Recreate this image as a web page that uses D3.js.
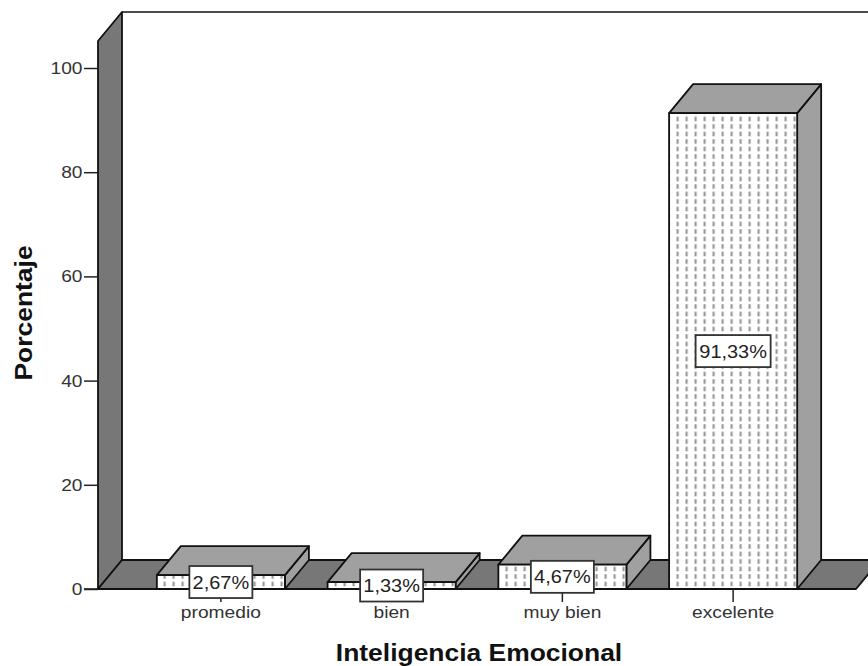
<!DOCTYPE html>
<html><head><meta charset="utf-8">
<script src="https://cdn.jsdelivr.net/npm/d3@7/dist/d3.min.js"></script>
<style>html,body{margin:0;padding:0;background:#fff}svg{display:block}text{font-family:"Liberation Sans",Arial,sans-serif}</style>
</head><body><svg id="c" width="868" height="666"></svg>
<script>
const categories = ["promedio", "bien", "muy bien", "excelente"];
const values = [2.67, 1.33, 4.67, 91.33];
const labels = ["2,67%", "1,33%", "4,67%", "91,33%"];
const yTicks = [0, 20, 40, 60, 80, 100];

const svg = d3.select("#c");
const dx = 24, dy = -29;
const stretch = 1.13, titleStretch = 1.15;
const y = d3.scaleLinear().domain([0, 100]).range([589, 68]);
const x = d3.scaleBand().domain(categories).range([135.5, 818.5]).paddingInner(0.25).paddingOuter(0.125);
const yTop = 41;
const defs = svg.append("defs");
const pat = defs.append("pattern").attr("id", "dots").attr("patternUnits", "userSpaceOnUse")
  .attr("width", 9).attr("height", 7.5).attr("x", -1.5).attr("y", 589);
pat.append("rect").attr("width", 9).attr("height", 7.5).attr("fill", "#fff");
pat.append("rect").attr("x", 3).attr("y", 0.2).attr("width", 2.2).attr("height", 4.6).attr("fill", "#999");

const poly = (pts, fill) => svg.append("path").attr("d", d3.line()(pts) + "Z").attr("fill", fill)
  .attr("stroke", "#111").attr("stroke-width", 1.8).attr("stroke-linejoin", "round");

svg.append("path").attr("d", d3.line()([[98 + dx, yTop + dy], [868, yTop + dy]])).attr("stroke", "#111").attr("stroke-width", 1.6).attr("fill", "none");
poly([[98, 589], [98, yTop], [98 + dx, yTop + dy], [98 + dx, 589 + dy]], "#777");
poly([[98, 589], [98 + dx, 589 + dy], [880, 589 + dy], [856, 589]], "#777");

const g = svg.append("g");
categories.forEach((c, i) => {
  const x0 = x(c), x1 = x0 + x.bandwidth(), yv = y(values[i]), y0 = y(0);
  poly([[x1, y0], [x1 + dx, y0 + dy], [x1 + dx, yv + dy], [x1, yv]], "#a0a0a0");
  poly([[x0, yv], [x0 + dx, yv + dy], [x1 + dx, yv + dy], [x1, yv]], "#a0a0a0");
  poly([[x0, y0], [x0, yv], [x1, yv], [x1, y0]], "url(#dots)");
});

svg.append("line").attr("x1", 84).attr("x2", 856).attr("y1", 589).attr("y2", 589).attr("stroke", "#111").attr("stroke-width", 1.6);

const styleAxisText = sel => sel.attr("font-size", 17).attr("fill", "#333")
  .style("font-family", '"Liberation Sans",Arial,sans-serif');

const yAxis = d3.axisLeft(y).tickValues(yTicks).tickSize(14).tickPadding(1).tickFormat(d3.format("d"));
const ga = svg.append("g").attr("transform", "translate(98,0)").call(yAxis);
ga.select(".domain").remove();
ga.selectAll("line").attr("stroke", "#222").attr("stroke-width", 1.5);
styleAxisText(ga.selectAll("text")).attr("x", -15.5 / stretch).attr("transform", `scale(${stretch},1)`);

const xAxis = d3.axisBottom(x).tickSize(13).tickPadding(4);
const gx = svg.append("g").attr("transform", "translate(0,589)").call(xAxis);
gx.select(".domain").remove();
gx.selectAll("line").attr("stroke", "#222").attr("stroke-width", 1.5);
styleAxisText(gx.selectAll("text")).attr("transform", `scale(${stretch},1)`);

categories.forEach((c, i) => {
  const cx = x(c) + x.bandwidth() / 2;
  const cy = y(values[i] / 2);
  const w = i === 3 ? 75 : 63, h = 32;
  svg.append("rect").attr("x", cx - w / 2).attr("y", cy - h / 2).attr("width", w).attr("height", h)
    .attr("fill", "#fff").attr("stroke", "#333").attr("stroke-width", 1.8);
  svg.append("text").attr("transform", `translate(${cx},${cy + 6.5}) scale(1.14,1)`)
    .attr("text-anchor", "middle").attr("font-size", 17.5).attr("fill", "#222").text(labels[i]);
});

svg.append("text").attr("transform", `translate(479,661) scale(${titleStretch},1)`).attr("text-anchor", "middle")
  .attr("font-size", 23).attr("font-weight", "bold").attr("fill", "#111").text("Inteligencia Emocional");
svg.append("text").attr("transform", `translate(32,313) rotate(-90) scale(${titleStretch},1)`).attr("text-anchor", "middle")
  .attr("font-size", 23).attr("font-weight", "bold").attr("fill", "#111").text("Porcentaje");
</script></body></html>
